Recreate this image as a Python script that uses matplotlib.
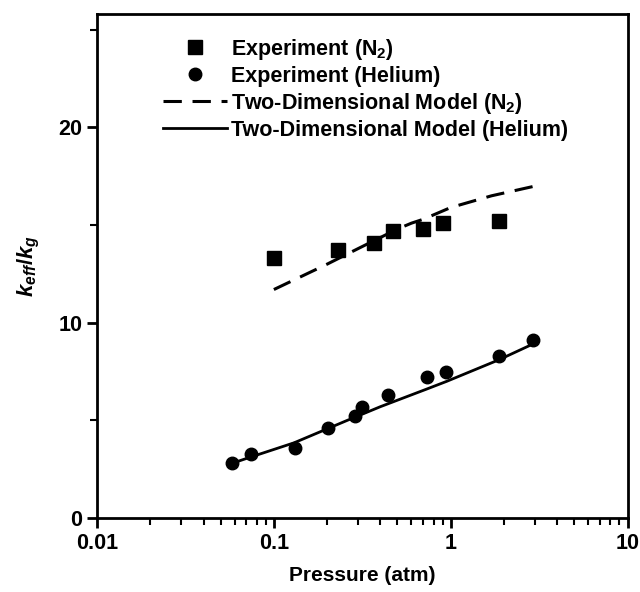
import matplotlib
matplotlib.use('Agg')
import matplotlib.pyplot as plt
from matplotlib.ticker import FixedLocator, NullFormatter, LogLocator

plt.rcParams['font.family'] = ['Liberation Sans', 'DejaVu Sans']
plt.rcParams['font.weight'] = 'bold'
plt.rcParams['mathtext.fontset'] = 'custom'
plt.rcParams['mathtext.rm'] = 'Liberation Sans:bold'
plt.rcParams['mathtext.it'] = 'Liberation Sans:italic:bold'

# Experiment N2 (squares)
p_n2 = [0.10, 0.23, 0.37, 0.47, 0.70, 0.91, 1.87]
k_n2 = [13.3, 13.7, 14.1, 14.7, 14.8, 15.1, 15.2]

# Experiment Helium (circles)
p_he = [0.058, 0.074, 0.131, 0.202, 0.287, 0.314, 0.44, 0.73, 0.94, 1.87, 2.9]
k_he = [2.8, 3.3, 3.6, 4.6, 5.2, 5.7, 6.3, 7.2, 7.5, 8.3, 9.1]

# Two-dimensional model curves
p_mod_n2 = [0.10, 0.20, 0.30, 0.50, 0.60, 0.70, 1.0, 1.7, 3.0]
k_mod_n2 = [11.7, 13.0, 13.8, 14.8, 15.1, 15.3, 15.9, 16.5, 17.0]
p_mod_he = [0.058, 0.07, 0.13, 0.26, 0.40, 0.73, 0.95, 1.87, 2.9]
k_mod_he = [2.8, 3.05, 3.85, 5.0, 5.7, 6.6, 7.0, 8.1, 8.9]

fig = plt.figure(figsize=(6.4, 5.92), dpi=100)
ax = fig.add_axes([0.1516, 0.125, 0.829, 0.851])

ax.plot(p_n2, k_n2, 's', color='black', markersize=9.5, label=r'Experiment (N$_\mathregular{2}$)')
ax.plot(p_he, k_he, 'o', color='black', markersize=9, label='Experiment (Helium)')
ax.plot(p_mod_n2, k_mod_n2, color='black', linewidth=2.2, dashes=(6, 3.5),
        label=r'Two-Dimensional Model (N$_\mathregular{2}$)')
ax.plot(p_mod_he, k_mod_he, color='black', linewidth=2, label='Two-Dimensional Model (Helium)')

ax.set_xscale('log')
ax.set_xlim(0.01, 10)
ax.set_ylim(0, 25.8)
ax.set_xticks([0.01, 0.1, 1, 10])
ax.set_xticklabels(['0.01', '0.1', '1', '10'])
ax.xaxis.set_minor_locator(LogLocator(base=10, subs=range(2, 10)))
ax.xaxis.set_minor_formatter(NullFormatter())
ax.set_yticks([0, 10, 20])
ax.yaxis.set_minor_locator(FixedLocator([5, 15, 25]))

for s in ax.spines.values():
    s.set_linewidth(2)
ax.tick_params(which='major', length=7, width=2, labelsize=15.5, direction='out')
ax.tick_params(which='minor', length=5, width=1.5, direction='out')

ax.set_xlabel('Pressure (atm)', fontsize=15, fontweight='bold', labelpad=9)
ax.set_ylabel(r'$k_{eff}/k_g$', fontsize=16, labelpad=12)

ax.legend(loc='upper left', bbox_to_anchor=(0.087, 0.994), frameon=False, fontsize=15.5,
          handlelength=3, handletextpad=0.2, labelspacing=0.19, borderaxespad=0.5)

plt.savefig('out.png', dpi=100)
plt.close()
